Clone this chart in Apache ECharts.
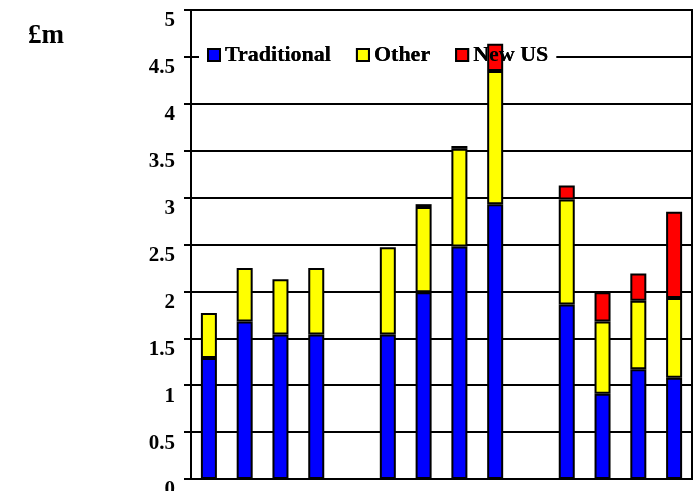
<!DOCTYPE html>
<html>
<head>
<meta charset="utf-8">
<script src="https://cdn.jsdelivr.net/npm/echarts@6/dist/echarts.min.js"></script>
<style>
html,body{margin:0;padding:0;background:#fff;}
#c{width:700px;height:491px;}
</style>
</head>
<body>
<div id="c"></div>
<script>
var categories = ['1','2','3','4','','5','6','7','8','','9','10','11','12'];
var traditional = [1.29, 1.68, 1.54, 1.54, null, 1.54, 1.99, 2.48, 2.93, null, 1.86, 0.91, 1.17, 1.08];
var other       = [0.48, 0.57, 0.59, 0.71, null, 0.93, 0.91, 1.04, 1.42, null, 1.12, 0.77, 0.73, 0.85];
var newUS       = [null, null, null, null, null, null, 0.03, 0.03, 0.29, null, 0.15, 0.31, 0.29, 0.92];
var yTicks = [0, 0.5, 1, 1.5, 2, 2.5, 3, 3.5, 4, 4.5, 5];
var seriesNames = ['Traditional', 'Other', 'New US'];
var seriesColors = ['#0000ff', '#ffff00', '#ff0000'];
var unitLabel = '£m';

var FONT = "'Liberation Serif', 'Times New Roman', serif";
var chart = echarts.init(document.getElementById('c'), null, {renderer: 'canvas'});

function mkSeries(name, data, color) {
  return {
    name: name, type: 'bar', stack: 'total', data: data, barWidth: 16, z: 2,
    itemStyle: {color: color, borderColor: '#000', borderWidth: 2},
    emphasis: {disabled: true}
  };
}
var legendBase = {
  left: 199, top: 44, orient: 'horizontal',
  itemWidth: 12, itemHeight: 12, itemGap: 25,
  padding: [0, 8, 0, 8],
  icon: 'rect',
  itemStyle: {borderColor: '#000', borderWidth: 2},
  textStyle: {fontFamily: FONT, fontWeight: 'bold', fontSize: 22, color: '#000'},
  data: seriesNames,
  selectedMode: false
};

chart.setOption({
  animation: false,
  backgroundColor: '#fff',
  title: {
    text: unitLabel, left: 23, top: 18,
    textStyle: {fontFamily: FONT, fontWeight: 'bold', fontSize: 27, color: '#000'}
  },
  legend: [
    Object.assign({}, legendBase, {backgroundColor: '#fff', z: 1}),
    Object.assign({}, legendBase, {backgroundColor: 'transparent', z: 5})
  ],
  grid: {
    left: 191, right: 8, top: 10, bottom: 12,
    outerBoundsMode: 'none', containLabel: false,
    show: true, borderColor: '#000', borderWidth: 2, backgroundColor: '#fff'
  },
  xAxis: {
    type: 'category', data: categories,
    axisLine: {lineStyle: {color: '#000', width: 2}},
    axisTick: {show: false}, axisLabel: {show: false}, splitLine: {show: false}
  },
  yAxis: {
    type: 'value', min: yTicks[0], max: yTicks[yTicks.length - 1], interval: 0.5,
    axisLine: {show: true, lineStyle: {color: '#000', width: 2}},
    axisTick: {show: true, length: 7, lineStyle: {color: '#000', width: 2}},
    splitLine: {show: true, lineStyle: {color: '#000', width: 2}},
    axisLabel: {
      margin: 16, fontFamily: FONT, fontWeight: 'bold', fontSize: 21, color: '#000',
      verticalAlign: 'top', lineHeight: 22,
      formatter: function (v) { return String(v); }
    }
  },
  series: [
    mkSeries(seriesNames[0], traditional, seriesColors[0]),
    mkSeries(seriesNames[1], other, seriesColors[1]),
    mkSeries(seriesNames[2], newUS, seriesColors[2])
  ]
});
</script>
</body>
</html>
